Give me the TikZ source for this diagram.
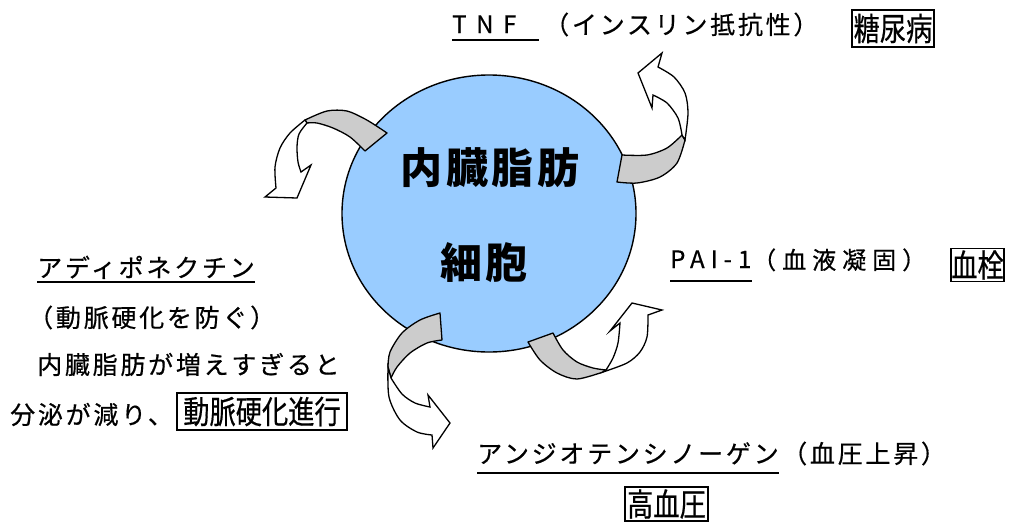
\documentclass[tikz,border=0pt]{standalone}
\usepackage{fontspec}
\setmainfont{Noto Sans CJK JP}
\newfontfamily\jpreg[LetterSpace=11,FakeBold=0.5]{Noto Sans CJK JP}
\newfontfamily\jpwide[LetterSpace=40,FakeBold=0.5]{Noto Sans CJK JP}
\newfontfamily\jpmid[LetterSpace=25,FakeBold=0.5]{Noto Sans CJK JP}
\newfontfamily\jpbx[FakeStretch=0.82,FakeBold=0.5]{Noto Sans CJK JP}
\newfontfamily\jpcell[LetterSpace=8]{Noto Sans CJK JP}
\usetikzlibrary{shapes.geometric}
\definecolor{cellblue}{RGB}{153,204,255}
\definecolor{backgrey}{RGB}{204,204,204}
\tikzset{
  cell/.style={ellipse, draw, fill=cellblue, line width=1.4pt, minimum width=294pt, minimum height=277pt, inner sep=0pt},
  celltxt/.style={inner sep=0pt, font=\jpcell\bfseries\fontsize{42}{46}\selectfont},
  txt/.style={inner sep=0pt, anchor=base west, font=\jpreg\fontsize{25}{29}\selectfont},
  widetxt/.style={inner sep=0pt, anchor=base west, font=\jpwide\fontsize{24}{28}\selectfont},
  midtxt/.style={inner sep=0pt, anchor=base west, font=\jpmid\fontsize{24}{28}\selectfont},
  boxed/.style={draw, line width=1.6pt, inner sep=0pt, font=\jpbx\fontsize{32}{36}\selectfont},
  uline/.style={line width=1.6pt},
  back/.style={draw, fill=backgrey, line width=1.3pt, line join=round},
  front/.style={draw, fill=white, line width=1.3pt, line join=miter}
}
\begin{document}
\begin{tikzpicture}[x=1pt,y=-1pt]
\useasboundingbox (0,0) rectangle (1009,523);
\node[cell] (cell) at (489,213.5) {};
% arrow top-left
\draw[back] (387,133) -- (365,151) -- plot[smooth] coordinates {(365,151) (350,137) (333,128) (317,123) (307,123)} -- (305,120) -- plot[smooth] coordinates {(305,120) (327,111) (347,111) (365,119) (378,127) (387,133)} -- cycle;
\draw[front] (305,120) -- plot[smooth] coordinates {(305,120) (290,133) (280,148) (275,167) (276,188)} -- (265,197) -- (297,198) -- (311,165) -- (301,172) -- plot[smooth] coordinates {(301,172) (298,162) (297,147) (299,134) (307,123)} -- cycle;
% arrow top-right
\draw[back] (622,155) -- (617,182) -- plot[smooth] coordinates {(617,182) (637,183) (660,177) (677,163) (685,140)} -- (682,135) -- plot[smooth] coordinates {(682,135) (667,148) (647,155) (622,155)} -- cycle;
\draw[front] (685,140) -- plot[smooth] coordinates {(685,140) (688,113) (685,93) (674,77) (658,67)} -- (662,53) -- (638,73) -- (652,108) -- (653,95) -- plot[smooth] coordinates {(653,95) (667,103) (678,118) (682,135)} -- cycle;
% arrow bottom-left
\draw[back] (440,313) -- (442,340) -- plot[smooth] coordinates {(442,340) (427,343) (410,353) (397,367) (391,378)} -- (388,367) -- plot[smooth] coordinates {(388,367) (390,352) (402,333) (420,320) (440,313)} -- cycle;
\draw[front] (388,367) -- plot[smooth] coordinates {(388,367) (389,397) (400,420) (417,432) (432,435)} -- (433,448) -- (450,423) -- (428,395) -- (430,407) -- plot[smooth] coordinates {(430,407) (415,403) (402,394) (391,378)} -- cycle;
% arrow bottom-right
\draw[back] (553,333) -- (528,342) -- plot[smooth] coordinates {(528,342) (540,360) (557,373) (577,379) (603,372)} -- (606,370) -- plot[smooth] coordinates {(606,370) (593,368) (577,362) (563,350) (553,333)} -- cycle;
\draw[front] (603,372) -- plot[smooth] coordinates {(603,372) (627,363) (640,352) (647,337) (648,315)} -- (662,310) -- (632,303) -- (610,331) -- (620,323) -- plot[smooth] coordinates {(620,323) (618,343) (613,358) (606,370)} -- cycle;
% circle text
\node[celltxt] (t1) at (490,168) {内臓脂肪};
\node[celltxt] (t2) at (484,263) {細胞};
% top
\node[widetxt] (tnf) at (452,33) {TNF};
\node[txt] (tnfp) at (544,34) {（インスリン抵抗性）};
\node[boxed, minimum width=82pt, minimum height=37pt] (dm) at (893,28.5) {糖尿病};
% right
\node[midtxt] (pai) at (670,268) {PAI-1};
\node[midtxt] (paip) at (752,269) {（血液凝固）};
\node[boxed, minimum width=53pt, minimum height=33pt] (clot) at (977.5,265) {血栓};
% left
\node[txt] (adipo) at (37,277) {アディポネクチン};
\node[txt] (prevent) at (28,327) {（動脈硬化を防ぐ）};
\node[txt] (excess) at (37,374) {内臓脂肪が増えすぎると};
\node[txt] (reduce) at (10,424) {分泌が減り、};
\node[boxed, minimum width=170pt, minimum height=37pt] (athero) at (262,411.5) {動脈硬化進行};
% bottom
\node[txt] (angio) at (477,463) {アンジオテンシノーゲン};
\node[txt] (bpup) at (782,463) {（血圧上昇）};
\node[boxed, minimum width=83pt, minimum height=34pt] (hbp) at (666.5,504) {高血圧};
% underlines
\draw[uline] ([yshift=-7pt]tnf.base west) -- ([xshift=22pt,yshift=-7pt]tnf.base east);
\draw[uline] ([yshift=-13pt]pai.base west) -- ([yshift=-13pt]pai.base east);
\draw[uline] ([yshift=-5pt]adipo.base west) -- ([yshift=-5pt]adipo.base east);
\draw[uline] ([yshift=-10pt]angio.base west) -- ([yshift=-10pt]angio.base east);
\end{tikzpicture}
\end{document}
